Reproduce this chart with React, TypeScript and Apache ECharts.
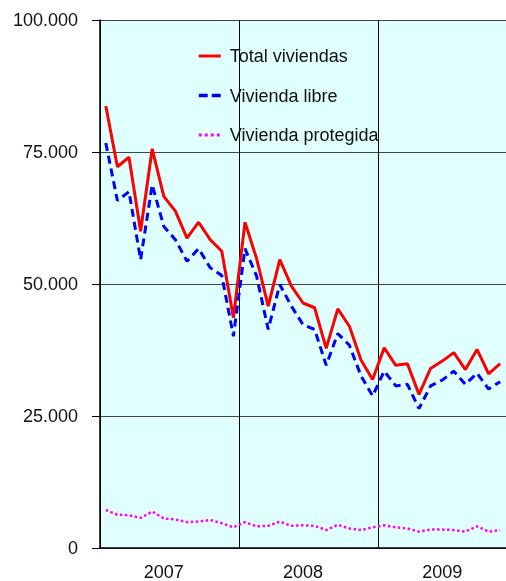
import React, { useEffect, useRef } from 'react';
import * as echarts from 'echarts';

const months: string[] = [
  '2007-01', '2007-02', '2007-03', '2007-04', '2007-05', '2007-06',
  '2007-07', '2007-08', '2007-09', '2007-10', '2007-11', '2007-12',
  '2008-01', '2008-02', '2008-03', '2008-04', '2008-05', '2008-06',
  '2008-07', '2008-08', '2008-09', '2008-10', '2008-11', '2008-12',
  '2009-01', '2009-02', '2009-03', '2009-04', '2009-05', '2009-06',
  '2009-07', '2009-08', '2009-09', '2009-10', '2009-11',
];

const totalViviendas: number[] = [
  83700, 72200, 74000, 60000, 75600, 66600, 63800, 58700, 61700, 58400, 56200, 43600,
  61700, 54800, 45800, 54600, 49600, 46400, 45500, 37800, 45300, 42000, 35600, 31900,
  37900, 34600, 34900, 29100, 34000, 35400, 37000, 33800, 37600, 33000, 34900,
];

const viviendaLibre: number[] = [
  76700, 65800, 67500, 54600, 68800, 60900, 58400, 54300, 56700, 53100, 51600, 40100,
  56700, 51500, 41400, 49900, 45800, 42300, 41400, 34600, 40600, 38400, 32600, 28800,
  33500, 30700, 31000, 26400, 30700, 31800, 33500, 31000, 33100, 30100, 31500,
];

const viviendaProtegida: number[] = [
  7200, 6300, 6200, 5700, 6900, 5600, 5400, 4900, 5000, 5300, 4700, 3900,
  4900, 4100, 4200, 5000, 4200, 4300, 4200, 3400, 4400, 3700, 3400, 3900,
  4300, 3900, 3700, 3100, 3500, 3500, 3400, 3100, 4100, 3100, 3400,
];

const yTicks = { min: 0, max: 100000, interval: 25000 };

const FONT = '"Liberation Sans", Arial, sans-serif';

export default function App() {
  const ref = useRef<HTMLDivElement>(null);

  useEffect(() => {
    if (!ref.current) return;
    const chart = echarts.init(ref.current, undefined, { renderer: 'svg' });
    chart.setOption({
      animation: false,
      textStyle: { fontFamily: FONT },
      grid: {
        left: 100,
        right: 0,
        top: 20,
        bottom: 32,
        show: true,
        backgroundColor: '#e0ffff',
        borderWidth: 0,
      },
      legend: {
        orient: 'vertical',
        left: 192,
        top: 42,
        itemWidth: 22,
        itemHeight: 14,
        itemGap: 21.5,
        itemStyle: { opacity: 0 },
        textStyle: {
          fontFamily: FONT,
          fontSize: 18,
          color: '#111',
          padding: [0, 0, 0, 4],
        },
        data: [
          { name: 'Total viviendas', lineStyle: { width: 3, type: 'solid' } },
          { name: 'Vivienda libre', lineStyle: { width: 3.5, type: [9, 4] } },
          { name: 'Vivienda protegida', lineStyle: { width: 3, type: [3, 3] } },
        ],
      },
      xAxis: {
        type: 'category',
        data: months,
        boundaryGap: true,
        axisLine: { show: true, lineStyle: { color: '#000', width: 1.5 } },
        axisTick: { show: false, interval: (i: number) => i % 12 === 0 },
        splitLine: {
          show: true,
          interval: (i: number) => i % 12 === 0,
          lineStyle: { color: '#000', width: 1 },
        },
        axisLabel: {
          interval: (i: number) => i % 12 === 5,
          formatter: (v: string) => v.slice(0, 4),
          fontFamily: FONT,
          fontSize: 18,
          color: '#111',
          margin: 15,
        },
      },
      yAxis: {
        type: 'value',
        min: yTicks.min,
        max: yTicks.max,
        interval: yTicks.interval,
        axisLine: { show: true, lineStyle: { color: '#000', width: 1.5 } },
        axisTick: { show: true, length: 8, lineStyle: { color: '#000' } },
        splitLine: { show: true, lineStyle: { color: '#444', width: 1 } },
        axisLabel: {
          fontFamily: FONT,
          fontSize: 18,
          color: '#111',
          margin: 22,
          formatter: (v: number) =>
            v === 0 ? '0' : String(v).replace(/\B(?=(\d{3})+(?!\d))/g, '.'),
        },
      },
      series: [
        {
          name: 'Total viviendas',
          type: 'line',
          data: totalViviendas,
          symbol: 'none',
          color: '#ff0000',
          lineStyle: { color: '#ff0000', width: 3 },
        },
        {
          name: 'Vivienda libre',
          type: 'line',
          data: viviendaLibre,
          symbol: 'none',
          color: '#0000ff',
          lineStyle: { color: '#0000ff', width: 3, type: [8, 5] },
        },
        {
          name: 'Vivienda protegida',
          type: 'line',
          data: viviendaProtegida,
          symbol: 'none',
          color: '#ff00ff',
          lineStyle: { color: '#ff00ff', width: 2.5, type: [2.5, 2.5] },
        },
      ],
    });
    return () => chart.dispose();
  }, []);

  return (
    <div
      ref={ref}
      style={{ position: 'fixed', left: 0, top: 0, width: 506, height: 581 }}
    />
  );
}
